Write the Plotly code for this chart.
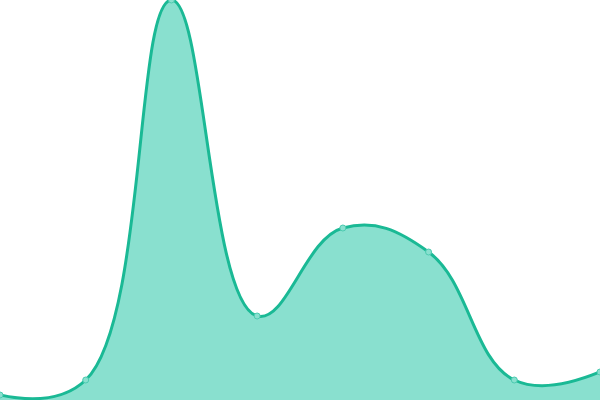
import plotly.graph_objects as go

# Data
x_idx = [0, 1, 2, 3, 4, 5, 6, 7]
values = [1.25, 5, 100, 21, 43, 37, 5, 7]

line_color = "#1ab995"
fill_color = "#89e0cf"

fig = go.Figure()

fig.add_trace(go.Scatter(
    x=x_idx,
    y=values,
    mode="lines+markers",
    line=dict(color=line_color, width=3, shape="spline", smoothing=1.2),
    fill="tozeroy",
    fillcolor=fill_color,
    marker=dict(size=6, color=fill_color, line=dict(color="#4ccbb0", width=1)),
    showlegend=False,
    hoverinfo="skip"
))

fig.update_layout(
    width=600,
    height=400,
    margin=dict(l=0, r=0, t=0, b=0),
    paper_bgcolor="white",
    plot_bgcolor="white",
    xaxis=dict(visible=False, range=[0, 7]),
    yaxis=dict(visible=False, range=[0, 100]),
)

# drop the default page margin so the chart sits at the window corner
fig.write_html("out.html", config={"displayModeBar": False},
               post_script="document.body.style.margin='0';")
